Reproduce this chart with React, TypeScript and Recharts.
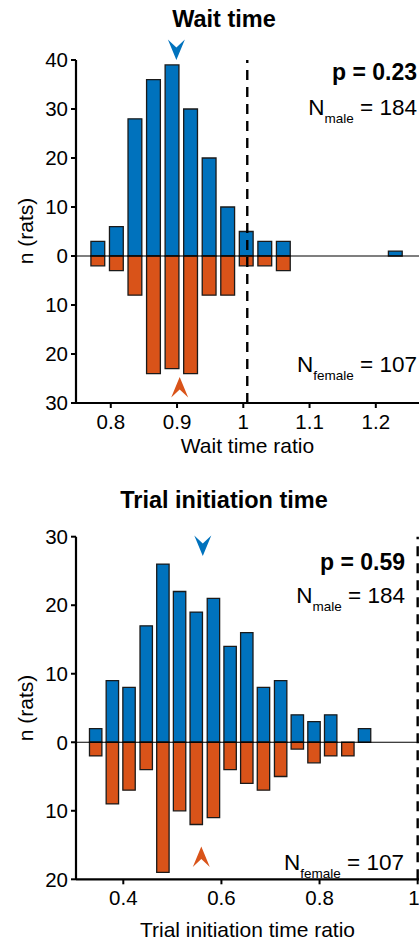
import React from 'react';
import { BarChart, Bar, XAxis, YAxis, ReferenceLine, ReferenceDot } from 'recharts';

const BLUE = '#0072BD';
const ORANGE = '#D95319';
const EDGE = '#1a1a1a';
const FONT = '"Liberation Sans", Arial, Helvetica, sans-serif';

// Wait time ratio histogram (bin centres, counts per sex)
const WAIT_BINS = [0.781, 0.809, 0.837, 0.865, 0.893, 0.921, 0.949, 0.977, 1.005, 1.033, 1.061, 1.089, 1.117, 1.146, 1.174, 1.202, 1.23];
const WAIT_MALE = [3, 6, 28, 36, 39, 30, 20, 10, 5, 3, 3, 0, 0, 0, 0, 0, 1];
const WAIT_FEMALE = [2, 3, 8, 24, 23, 24, 8, 8, 2, 2, 3, 0, 0, 0, 0, 0, 0];
const WAIT_X_TICKS = [0.8, 0.9, 1, 1.1, 1.2];
const WAIT_Y_TICKS = [-30, -20, -10, 0, 10, 20, 30, 40];
const WAIT_MEANS = [0.899, 0.904]; // male, female

// Trial initiation time ratio histogram
const INIT_BINS = [0.344, 0.378, 0.412, 0.447, 0.481, 0.515, 0.549, 0.584, 0.618, 0.652, 0.686, 0.721, 0.755, 0.789, 0.823, 0.858, 0.892];
const INIT_MALE = [2, 9, 8, 17, 26, 22, 19, 21, 14, 16, 8, 9, 4, 3, 4, 0, 2];
const INIT_FEMALE = [2, 9, 7, 4, 19, 10, 12, 11, 4, 6, 7, 5, 1, 3, 2, 2, 0];
const INIT_X_TICKS = [0.4, 0.6, 0.8, 1];
const INIT_Y_TICKS = [-20, -10, 0, 10, 20, 30];
const INIT_MEANS = [0.562, 0.559];

const downArrow = (props: any) => {
  const { cx, cy } = props;
  return <path d={`M${cx},${cy} L${cx - 8.5},${cy - 20.5} L${cx},${cy - 12.5} L${cx + 8.5},${cy - 20.5} Z`} fill={BLUE} />;
};

const upArrow = (props: any) => {
  const { cx, cy } = props;
  return <path d={`M${cx},${cy} L${cx - 8.5},${cy + 20.5} L${cx},${cy + 12.5} L${cx + 8.5},${cy + 20.5} Z`} fill={ORANGE} />;
};

interface HistProps {
  bins: number[];
  male: number[];
  female: number[];
  xDomain: [number, number];
  xTicks: number[];
  yDomain: [number, number];
  yTicks: number[];
  refX: number;
  means: number[];
  arrowTips: number[];
  barSize: number;
  height: number;
  top: number;
  bottom: number;
}

function Histogram(p: HistProps) {
  const rows = p.bins.map((b, i) => ({ bin: b, male: p.male[i], female: -p.female[i] }));
  const tickStyle = { fontSize: 20.5, fill: '#000', fontFamily: FONT };
  return (
    <BarChart
      width={419}
      height={p.height}
      data={rows}
      stackOffset="sign"
      margin={{ top: p.top, right: 0, bottom: p.bottom, left: 16 }}
    >
      <XAxis
        dataKey="bin"
        type="number"
        domain={p.xDomain}
        allowDataOverflow
        ticks={p.xTicks}
        tickFormatter={(v: number) => String(v)}
        height={40}
        tick={tickStyle}
        tickSize={5}
        tickMargin={6}
        axisLine={{ stroke: '#000', strokeWidth: 2.2 }}
        tickLine={{ stroke: '#000', strokeWidth: 2 }}
      />
      <YAxis
        type="number"
        domain={p.yDomain}
        allowDataOverflow
        ticks={p.yTicks}
        tickFormatter={(v: number) => String(Math.abs(v))}
        width={60}
        tick={tickStyle}
        tickSize={5}
        tickMargin={3}
        axisLine={{ stroke: '#000', strokeWidth: 2.2 }}
        tickLine={{ stroke: '#000', strokeWidth: 2 }}
      />
      <Bar dataKey="male" stackId="s" fill={BLUE} stroke={EDGE} strokeWidth={1.3} barSize={p.barSize} isAnimationActive={false} />
      <Bar dataKey="female" stackId="s" fill={ORANGE} stroke={EDGE} strokeWidth={1.3} barSize={p.barSize} isAnimationActive={false} />
      <ReferenceLine y={0} stroke="#000" strokeWidth={1.1} />
      <ReferenceLine x={p.refX} stroke="#000" strokeWidth={2.4} strokeDasharray="10 7" />
      <ReferenceDot x={p.means[0]} y={p.arrowTips[0]} shape={downArrow} ifOverflow="visible" />
      <ReferenceDot x={p.means[1]} y={p.arrowTips[1]} shape={upArrow} ifOverflow="visible" />
    </BarChart>
  );
}

function NLabel({ x, y, sub, value }: { x: number; y: number; sub: string; value: string }) {
  return (
    <text x={x} y={y} textAnchor="end" fontSize={22.5} fontFamily={FONT}>
      N
      <tspan fontSize={13.5} dy={8}>{sub}</tspan>
      <tspan dy={-8}>{` = ${value}`}</tspan>
    </text>
  );
}

export default function App() {
  return (
    <div style={{ position: 'absolute', left: 0, top: 0, width: 419, height: 944, overflow: 'hidden', background: '#fff' }}>
      <div style={{ position: 'absolute', left: 0, top: 0 }}>
        <Histogram
          bins={WAIT_BINS}
          male={WAIT_MALE}
          female={WAIT_FEMALE}
          xDomain={[0.7475, 1.2652]}
          xTicks={WAIT_X_TICKS}
          yDomain={[-30, 40]}
          yTicks={WAIT_Y_TICKS}
          refX={1.006}
          means={WAIT_MEANS}
          arrowTips={[40, -24.7]}
          barSize={13.8}
          height={470}
          top={60}
          bottom={27}
        />
      </div>
      <div style={{ position: 'absolute', left: 0, top: 470 }}>
        <Histogram
          bins={INIT_BINS}
          male={INIT_MALE}
          female={INIT_FEMALE}
          xDomain={[0.3036, 1.0027]}
          xTicks={INIT_X_TICKS}
          yDomain={[-20, 30]}
          yTicks={INIT_Y_TICKS}
          refX={1}
          means={INIT_MEANS}
          arrowTips={[27.2, -15.2]}
          barSize={12.4}
          height={474}
          top={66.7}
          bottom={24.7}
        />
      </div>
      <svg width={419} height={944} style={{ position: 'absolute', left: 0, top: 0, pointerEvents: 'none' }}>
        <g fontFamily={FONT} fill="#000">
          <text x={224} y={27} textAnchor="middle" fontSize={23.5} fontWeight="bold">Wait time</text>
          <text x={417} y={80} textAnchor="end" fontSize={23} fontWeight="bold">p = 0.23</text>
          <NLabel x={417} y={115} sub="male" value="184" />
          <NLabel x={417} y={372} sub="female" value="107" />
          <text transform="translate(33,231) rotate(-90)" textAnchor="middle" fontSize={21}>n (rats)</text>
          <text x={247.5} y={453} textAnchor="middle" fontSize={21}>Wait time ratio</text>

          <text x={224} y={508} textAnchor="middle" fontSize={23.5} fontWeight="bold">Trial initiation time</text>
          <text x={405} y={570} textAnchor="end" fontSize={23} fontWeight="bold">p = 0.59</text>
          <NLabel x={405} y={603} sub="male" value="184" />
          <NLabel x={404} y={870} sub="female" value="107" />
          <text transform="translate(33,708) rotate(-90)" textAnchor="middle" fontSize={21}>n (rats)</text>
          <text x={247.5} y={936.5} textAnchor="middle" fontSize={21}>Trial initiation time ratio</text>
        </g>
      </svg>
    </div>
  );
}
